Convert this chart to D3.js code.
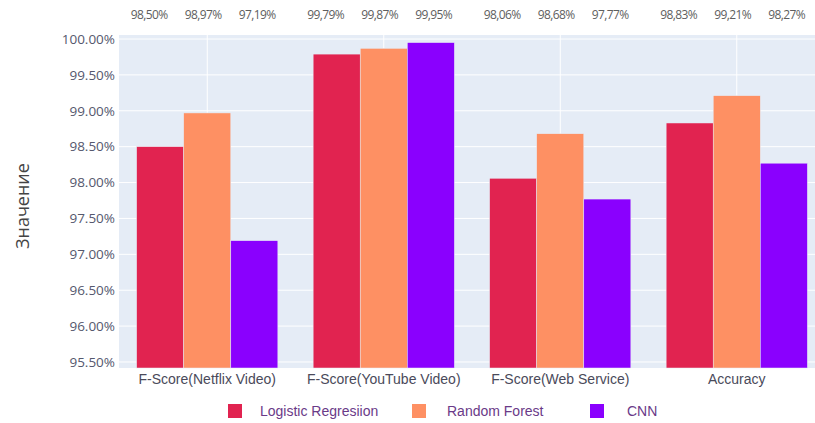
<!DOCTYPE html>
<html><head><meta charset="utf-8">
<script src="https://cdn.jsdelivr.net/npm/d3@7"></script>
<style>body{margin:0;background:#fff;overflow:hidden}</style>
</head><body>
<svg id="c" width="815" height="423"></svg>
<script>
const categories = ["F-Score(Netflix Video)", "F-Score(YouTube Video)", "F-Score(Web Service)", "Accuracy"];
const seriesNames = ["Logistic Regresiion", "Random Forest", "CNN"];
const logisticValues = [98.50, 99.79, 98.06, 98.83];
const forestValues = [98.97, 99.87, 98.68, 99.21];
const cnnValues = [97.19, 99.95, 97.77, 98.27];
const valueLabels = [["98,50%","99,79%","98,06%","98,83%"],["98,97%","99,87%","98,68%","99,21%"],["97,19%","99,95%","97,77%","98,27%"]];
const yTicks = [95.5, 96, 96.5, 97, 97.5, 98, 98.5, 99, 99.5, 100];
const colors = ["#e12350", "#fe9063", "#8a00fe"];
const series = [logisticValues, forestValues, cnnValues];

const svg = d3.select("#c");
const L = 119, R = 825, T = 35, B = 368;
const y = d3.scaleLinear().domain([95.416, 100.056]).range([B, T]);
const x = d3.scaleBand().domain(categories).range([L, R]).paddingInner(0.2).paddingOuter(0.1);
const x0 = d3.scaleBand().domain(categories).range([L, R]);
const xs = d3.scaleBand().domain(d3.range(3)).range([0, x.bandwidth()]);
const xl = d3.scalePoint().domain(d3.range(3)).range([-58, 50]);

svg.append("rect").attr("x", L).attr("y", T).attr("width", R - L).attr("height", B - T).attr("fill", "#e5ecf6");
svg.append("g").selectAll("line").data(yTicks).join("line")
  .attr("x1", L).attr("x2", R).attr("y1", d => y(d)).attr("y2", d => y(d))
  .attr("stroke", "#fff").attr("stroke-width", 1);
svg.append("g").selectAll("line").data(categories).join("line")
  .attr("x1", d => x0(d) + x0.bandwidth() / 2).attr("x2", d => x0(d) + x0.bandwidth() / 2)
  .attr("y1", T).attr("y2", B).attr("stroke", "#fff").attr("stroke-width", 1);

series.forEach((vals, si) => {
  svg.append("g").selectAll("rect").data(vals).join("rect")
    .attr("x", (d, i) => x(categories[i]) + xs(si))
    .attr("width", xs.bandwidth())
    .attr("y", d => y(d))
    .attr("height", d => B - y(d))
    .attr("fill", colors[si])
    .attr("stroke", "#e5ecf6").attr("stroke-width", 0.5);
  svg.append("g").selectAll("text").data(vals).join("text")
    .attr("x", (d, i) => x0(categories[i]) + x0.bandwidth() / 2 + xl(si))
    .attr("y", 19)
    .attr("text-anchor", "middle")
    .attr("font-family", "'Open Sans', sans-serif")
    .attr("font-size", 12).attr("letter-spacing", "-0.6px")
    .attr("fill", "#5e5e5e")
    .text((d, i) => valueLabels[si][i]);
});

const yAxis = d3.axisLeft(y).tickValues(yTicks).tickFormat(d => d.toFixed(2) + "%").tickSize(0).tickPadding(4);
const ga = svg.append("g").attr("transform", `translate(${L},0)`).call(yAxis);
ga.select(".domain").remove();
ga.selectAll("text").attr("font-family", "'Open Sans', sans-serif").attr("font-size", 13.5).attr("fill", "#55586e");

const xAxis = d3.axisBottom(x0).tickSize(0).tickPadding(6);
const gx = svg.append("g").attr("transform", `translate(0,${B})`).call(xAxis);
gx.select(".domain").remove();
gx.selectAll("text").attr("font-family", "'Liberation Sans', Arial, sans-serif").attr("font-size", 14).attr("fill", "#4a4a5a");

svg.append("text").attr("transform", "translate(29,206) rotate(-90)")
  .attr("text-anchor", "middle").attr("font-family", "'Open Sans', sans-serif")
  .attr("font-size", 18).attr("fill", "#444").text("Значение");

const legX = [228, 412, 590];
const lg = svg.append("g").selectAll("g").data(seriesNames).join("g")
  .attr("transform", (d, i) => `translate(${legX[i]},404)`);
lg.append("rect").attr("width", 14).attr("height", 14).attr("fill", (d, i) => colors[i]);
lg.append("text").attr("x", (d, i) => [32, 35, 37][i]).attr("y", 12).attr("font-family", "'Liberation Sans', Arial, sans-serif")
  .attr("font-size", 14).attr("fill", "#6a3a88").text(d => d);
</script>
</body></html>
